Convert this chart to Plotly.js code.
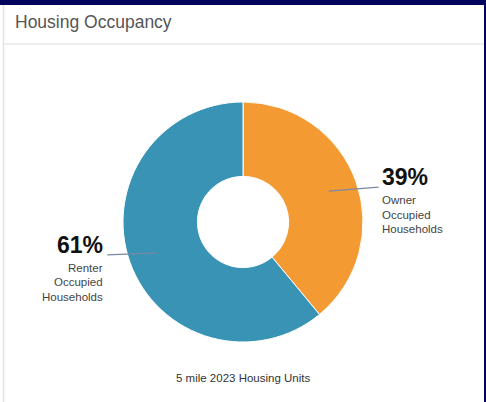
<!DOCTYPE html>
<html>
<head>
<meta charset="utf-8">
<script src="https://cdn.plot.ly/plotly-3.0.1.min.js"></script>
<style>
  html, body { margin: 0; padding: 0; background: #ffffff; }
  #chart { width: 486px; height: 402px; }
</style>
</head>
<body>
<div id="chart"></div>
<script>
// ---- data ----
var categories = ["Owner Occupied Households", "Renter Occupied Households"];
var shortLabels = [["Owner", "Occupied", "Households"], ["Renter", "Occupied", "Households"]];
var values = [39, 61];
var colors = ["#f39a33", "#3893b4"];
var chartTitle = "Housing Occupancy";
var footer = "5 mile 2023 Housing Units";

// ---- layout geometry (pixels) ----
var W = 486, H = 402;
var cx = 243, cy = 222, R = 120, holeFrac = 0.38;
function px(x) { return x / W; }
function py(y) { return 1 - y / H; }

var total = values.reduce(function (a, b) { return a + b; }, 0);
var shapes = [
  // navy frame
  {type: "rect", xref: "paper", yref: "paper", x0: 0, x1: 1, y0: py(5), y1: 1, fillcolor: "#03045e", line: {width: 0}, layer: "above"},
  {type: "rect", xref: "paper", yref: "paper", x0: px(484), x1: 1, y0: 0, y1: 1, fillcolor: "#03045e", line: {width: 0}, layer: "above"},
  // card border + header separator
  {type: "line", xref: "paper", yref: "paper", x0: px(3.5), x1: px(3.5), y0: 0, y1: py(5), line: {color: "#e4e4e4", width: 1.5}},
  {type: "line", xref: "paper", yref: "paper", x0: px(4), x1: px(484), y0: py(44), y1: py(44), line: {color: "#e8e8e8", width: 1.5}}
];
var annotations = [
  {text: footer, xref: "paper", yref: "paper", x: px(cx), y: py(378), xanchor: "center", yanchor: "middle",
   showarrow: false, font: {family: "Liberation Sans, Arial, sans-serif", size: 11.5, color: "#333333"}}
];

var cum = 0;
for (var i = 0; i < values.length; i++) {
  var mid = (cum + values[i] / 2) / total * 2 * Math.PI; // clockwise from top
  cum += values[i];
  var dx = Math.sin(mid), dy = -Math.cos(mid);
  var r0 = R * 0.76;
  var sx = cx + r0 * dx, sy = cy + r0 * dy;
  var right = dx >= 0;
  var ex = cx + (right ? 1 : -1) * R * 1.13;
  var ey = right ? sy - 4 : sy + 2;
  shapes.push({type: "line", xref: "paper", yref: "paper", x0: px(sx), y0: py(sy), x1: px(ex), y1: py(ey),
               line: {color: "#7a88a3", width: 1.2}, layer: "above"});
  var pct = Math.round(values[i] / total * 100) + "%";
  var tx = right ? ex + 1 : ex - 2;
  annotations.push({text: "<b>" + pct + "</b>", xref: "paper", yref: "paper", x: px(tx), y: py(ey + 5),
    xanchor: right ? "left" : "right", yanchor: "bottom", showarrow: false,
    font: {family: "Liberation Sans, Arial, sans-serif", size: 23, color: "#111111"}});
  for (var k = 0; k < shortLabels[i].length; k++) {
    annotations.push({text: shortLabels[i][k], xref: "paper", yref: "paper", x: px(tx), y: py(ey + 13 + k * 14.5),
      xanchor: right ? "left" : "right", yanchor: "middle", showarrow: false,
      font: {family: "Liberation Sans, Arial, sans-serif", size: 11.5, color: "#444444"}});
  }
}

var trace = {
  type: "pie",
  labels: categories,
  values: values,
  sort: false,
  direction: "clockwise",
  rotation: 0,
  hole: holeFrac,
  textinfo: "none",
  hoverinfo: "label+percent",
  marker: {colors: colors, line: {color: "#ffffff", width: 1}},
  domain: {x: [px(cx - R), px(cx + R)], y: [py(cy + R), py(cy - R)]}
};

var layout = {
  width: W, height: H,
  margin: {l: 0, r: 0, t: 0, b: 0},
  paper_bgcolor: "#ffffff",
  showlegend: false,
  title: {text: chartTitle, xref: "paper", yref: "paper", x: px(15), y: py(22), xanchor: "left", yanchor: "middle",
          font: {family: "Liberation Sans, Arial, sans-serif", size: 17.5, color: "#555555"}},
  shapes: shapes,
  annotations: annotations
};

Plotly.newPlot("chart", [trace], layout, {displayModeBar: false, staticPlot: true});
</script>
</body>
</html>
